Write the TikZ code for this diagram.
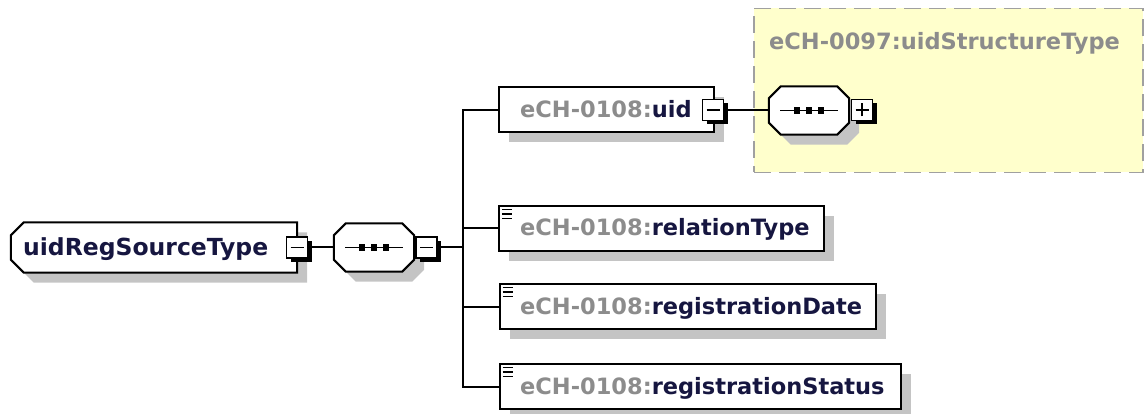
\documentclass[tikz,border=0pt]{standalone}
\usepackage{fontspec}
\setmainfont{DejaVu Sans}
\usetikzlibrary{shadows}
\definecolor{pref}{HTML}{8C8C8C}
\definecolor{nm}{HTML}{161640}
\definecolor{shd}{HTML}{C4C4C4}
\definecolor{yel}{HTML}{FFFFCC}
\definecolor{dsh}{HTML}{A0A0A0}
% octagon outline (with shadow) drawn around a named node: #1 node, #2 left chamfer, #3 right chamfer
\newcommand\drawocta[3]{%
  \fill[shd] ([shift={(10+#2,10)}]#1.north west) -- ([shift={(10-#3,10)}]#1.north east)
    -- ([shift={(10,10+#3)}]#1.north east) -- ([shift={(10,10-#3)}]#1.south east)
    -- ([shift={(10-#3,10)}]#1.south east) -- ([shift={(10+#2,10)}]#1.south west)
    -- ([shift={(10,10-#2)}]#1.south west) -- ([shift={(10,10+#2)}]#1.north west) -- cycle;
  \filldraw[fill=white, draw=black, line width=2pt] ([shift={(#2,0)}]#1.north west) -- ([shift={(-#3,0)}]#1.north east)
    -- ([shift={(0,#3)}]#1.north east) -- ([shift={(0,-#3)}]#1.south east)
    -- ([shift={(-#3,0)}]#1.south east) -- ([shift={(#2,0)}]#1.south west)
    -- ([shift={(0,-#2)}]#1.south west) -- ([shift={(0,#2)}]#1.north west) -- cycle;
}
\begin{document}
\begin{tikzpicture}[x=1pt,y=-1pt,
  lbl/.style={inner sep=0pt, anchor=base west, text=nm, font=\fontsize{22.5}{27}\selectfont\bfseries},
  conn/.style={line width=2pt, draw=black},
  sh/.style={general shadow={fill=shd, shadow xshift=10pt, shadow yshift=-10pt}},
  elbox/.style={rectangle, draw, line width=2pt, fill=white, inner sep=0pt, minimum height=45pt, sh},
  octn/.style={rectangle, inner sep=0pt, minimum width=80pt, minimum height=48pt},
  ctl/.style={rectangle, draw, line width=1.6pt, fill=white, inner sep=0pt, minimum size=21pt, general shadow={fill=black, shadow xshift=4pt, shadow yshift=-4pt}},
  yb/.style={rectangle, draw=dsh, line width=1.5pt, dash pattern=on 17pt off 8pt, fill=yel, inner sep=0pt, minimum width=389pt, minimum height=164pt},
  icon/.style={line width=1.5pt},
  sign/.style={line width=1.5pt}
]
\useasboundingbox (0,0) rectangle (1146,414);

% yellow referenced type box
\node[yb] (ybox) at (948.5,90.5) {};
\node[lbl, text=pref] (ytitle) at (769,50) {eCH-0097:uidStructureType};

% root
\node[octn, minimum width=286pt, minimum height=50pt] (root) at (154,247.5) {};
\drawocta{root}{13}{0}
\node[lbl, font=\fontsize{23.5}{28}\selectfont\bfseries] (roott) at (23,255) {uidRegSourceType};
\node[ctl] (rootm) at (297,247.5) {};
\draw[sign] ([xshift=-6.5pt]rootm.center) -- ([xshift=6.5pt]rootm.center);

% sequence
\node[octn] (seq1) at (374,247.5) {};
\drawocta{seq1}{12}{12}
\node[ctl] (seqm) at (426.5,247.5) {};
\draw[sign] ([xshift=-6.5pt]seqm.center) -- ([xshift=6.5pt]seqm.center);
\coordinate (jn) at (463,247.5);

% uid element
\node[elbox, minimum width=215pt] (uid) at (606.5,110) {};
\node[lbl] (uidt) at (520,117.5) {\textcolor{pref}{eCH-0108:}uid};
\node[ctl] (uidm) at (713,110) {};
\draw[sign] ([xshift=-6.5pt]uidm.center) -- ([xshift=6.5pt]uidm.center);
\node[octn] (seq2) at (809,110.5) {};
\drawocta{seq2}{12}{12}
\node[ctl] (seq2p) at (862,110) {};
\draw[sign] ([xshift=-6.5pt]seq2p.center) -- ([xshift=6.5pt]seq2p.center);
\draw[sign] ([yshift=-6.5pt]seq2p.center) -- ([yshift=6.5pt]seq2p.center);

% simple elements
\node[elbox, minimum width=325pt] (rel) at (661.5,228.5) {};
\node[lbl] (relt) at (520,236) {\textcolor{pref}{eCH-0108:}relationType};
\node[elbox, minimum width=376pt] (date) at (687.5,306.5) {};
\node[lbl] (datet) at (520,314.5) {\textcolor{pref}{eCH-0108:}registrationDate};
\node[elbox, minimum width=401pt] (stat) at (700,386.5) {};
\node[lbl] (statt) at (520,394.5) {\textcolor{pref}{eCH-0108:}registrationStatus};

% content icons
\foreach \n in {rel,date,stat}{
  \foreach \dy in {4.5,9,13.5}{
    \draw[icon] ([shift={(4,\dy)}]\n.north west) -- ([shift={(14,\dy)}]\n.north west);
  }
}

% sequence glyphs
\foreach \s in {seq1,seq2}{
  \draw[line width=1.6pt] ([xshift=-29pt]\s.center) -- ([xshift=29pt]\s.center);
  \foreach \dx in {-12,0,12}{
    \fill ([shift={(\dx-3.2,-3.2)}]\s.center) rectangle ([shift={(\dx+3.2,3.2)}]\s.center);
  }
}

% connectors
\draw[conn] (rootm.east) -- (seq1.west);
\draw[conn] (seqm.east) -- (jn);
\draw[conn] (uid.west) -- (uid.west -| jn) -- (stat.west -| jn) -- (stat.west);
\draw[conn] (rel.west) -- (rel.west -| jn);
\draw[conn] (date.west) -- (date.west -| jn);
\draw[conn] (uidm.east) -- (seq2.west |- uidm.east);
\end{tikzpicture}
\end{document}
